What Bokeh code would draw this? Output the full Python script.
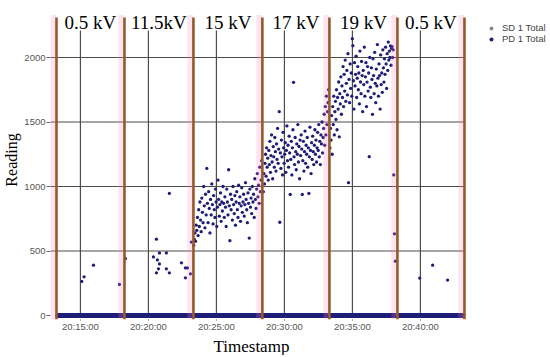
import numpy as np
from bokeh.plotting import figure
from bokeh.models import Range1d, FixedTicker, Legend, LegendItem, Title
from bokeh.core.properties import value
from bokeh.embed import file_html
from bokeh.resources import INLINE

# ---- data (x in minutes after 20:00) ----
kv_labels = ["0.5 kV", "11.5kV", "15 kV", "17 kV", "19 kV", "0.5 kV"]
boundaries = [13.24, 18.24, 23.31, 28.38, 33.31, 38.31, 43.24]
x_ticks = [15, 20, 25, 30, 35, 40]
x_tick_labels = ["20:15:00", "20:20:00", "20:25:00", "20:30:00", "20:35:00", "20:40:00"]
y_ticks = [0, 500, 1000, 1500, 2000]

# sparse PD readings (explicit timestamps)
sparse_min = [15.10, 15.27, 15.96, 17.87, 18.31,
              20.37, 20.59, 20.59, 20.66, 20.74, 20.81, 20.81, 21.32, 21.32, 21.54, 21.54,
              22.43, 22.72, 22.72, 22.87, 23.09, 23.16,
              38.04, 38.09, 38.16,
              39.95, 40.90, 42.00]
sparse_val = [264, 300, 390, 241, 441,
              454, 592, 331, 431, 362, 485, 400, 485, 362, 946, 331,
              408, 369, 292, 369, 323, 569,
              1090, 633, 421,
              290, 390, 275]

# dense segments, evenly sampled between start and end
pd15_start, pd15_end = 23.33, 28.33
pd15 = [545, 590, 640, 575, 700, 660, 760, 620, 820, 690,
        880, 740, 650, 910, 800, 720, 1000, 850, 680, 940,
        780, 1140, 870, 720, 960, 830, 640, 900, 780, 1020,
        860, 710, 930, 820, 760, 980, 880, 690, 840, 1050,
        900, 770, 860, 950, 730, 880, 810, 1000, 870, 760,
        920, 840, 690, 980, 880, 780, 1130, 850, 580, 940,
        820, 900, 740, 1000, 860, 790, 930, 700, 880, 960,
        820, 760, 1010, 870, 920, 730, 850, 990, 800, 880,
        940, 770, 860, 1030, 900, 820, 720, 950, 870, 600,
        980, 840, 910, 790, 1000, 880, 940, 760, 1060, 900,
        830, 980, 1100, 920, 1010, 870, 1150, 960, 1050, 1200]

pd17_start, pd17_end = 28.45, 33.25
pd17 = [960, 1100, 1020, 1180, 1250, 1080, 1300, 1150, 1220, 1050,
        1280, 1170, 1350, 1110, 1240, 1400, 1190, 1060, 1310, 1230,
        1150, 1380, 1270, 1120, 1330, 1210, 1450, 1180, 1290, 1580,
        723, 1260, 1140, 1360, 1230, 1090, 1420, 1300, 1180, 1250,
        1340, 1110, 1280, 1470, 1200, 1320, 1150, 1390, 1260, 938,
        1210, 1350, 1090, 1300, 1440, 1808, 1230, 1170, 1380, 1270,
        1130, 1330, 1250, 1480, 1190, 1310, 1060, 1360, 1240, 1400,
        1290, 938, 1200, 1350, 1120, 1270, 1430, 1180, 1320, 1250,
        1380, 1150, 1300, 946, 1230, 1460, 1280, 1100, 1340, 1210,
        1390, 1270, 1170, 1320, 1440, 1250, 1360, 1190, 1300, 1420,
        1280, 1480, 1230, 1350, 1170, 1400, 1330, 1500, 1260, 1380,
        1450, 1560, 1320, 1620, 1400, 1700, 1480, 1580, 1650, 1750]

pd19_start, pd19_end = 33.35, 38.0
pd19 = [1300, 1450, 1360, 1550, 1250, 1620, 1480, 1700, 1400, 1580,
        1660, 1520, 1750, 1440, 1690, 1600, 1810, 1385, 1720, 1640,
        1850, 1560, 1780, 1690, 1930, 1620, 1870, 1740, 1980, 1660,
        1800, 1900, 1710, 2030, 1030, 1830, 1650, 1950, 1760, 1880,
        1700, 2146, 2092, 1820, 1600, 1960, 1780, 1870, 2010, 1690,
        1840, 1930, 1750, 1880, 1640, 2050, 1810, 1720, 1970, 1860,
        1580, 1900, 1790, 2080, 1700, 1850, 1960, 1620, 1810, 1930,
        1740, 1880, 1231, 2000, 1770, 1690, 1920, 1830, 1560, 1990,
        1860, 1720, 2040, 1800, 1650, 1910, 1780, 2100, 1840, 1700,
        1950, 1860, 1600, 2020, 1790, 1880, 1730, 2060, 1920, 1810,
        1990, 1870, 2080, 1950, 1760, 2030, 1900, 2120, 1980, 2050,
        2000, 2090, 1940, 2070, 2085, 2000, 2060]

# zero readings across the whole logging period
zero_min = [13.24, 43.24]
zero_val = [0, 0]

# SD series (sits on zero, hidden under the zero band)
sd_min = [13.24, 43.24]
sd_val = [0, 0]

# ---- build ----
pd_x = [float(v) for v in sparse_min]
pd_y = [float(v) for v in sparse_val]
for s, e, vals in [(pd15_start, pd15_end, pd15), (pd17_start, pd17_end, pd17), (pd19_start, pd19_end, pd19)]:
    pd_x += [float(v) for v in np.linspace(s, e, len(vals))]
    pd_y += [float(v) for v in vals]

NAVY = "#1e1e78"
BROWN = "#96592a"
GRID = "#4d4d4d"

X0, X1 = 12.8, 49.64     # frame extends under the legend area
GRID_RIGHT = 43.3        # plotting area right edge
Y0, Y1 = -31, 2442

p = figure(frame_width=501, frame_height=319, output_backend="svg", toolbar_location=None,
           x_range=Range1d(X0, X1), y_range=Range1d(Y0, Y1),
           min_border_left=49, min_border_top=0, min_border_bottom=0, min_border_right=0)
p.outline_line_color = None
p.xgrid.visible = False
p.ygrid.visible = False

# horizontal grid lines
hy = y_ticks[1:]
p.segment(x0=[X0] * len(hy), y0=hy, x1=[GRID_RIGHT] * len(hy), y1=hy,
          line_color=GRID, line_width=1.2)
# vertical grid lines (up to the grid top)
grid_top = 2210
p.segment(x0=x_ticks, y0=[0] * len(x_ticks), x1=x_ticks, y1=[grid_top] * len(x_ticks),
          line_color=GRID, line_width=1.2)

sd_r = p.scatter(sd_min, sd_val, size=3, color="#8a8a8a", marker="circle", line_width=0)
pd_r = p.scatter(pd_x, pd_y, size=3.3, color=NAVY, marker="circle", line_width=0)
p.line(zero_min, zero_val, line_width=5, line_color=NAVY)

# pink bands left of the segment boundaries (semi-transparent, on top)
p.quad(left=[b - 0.45 for b in boundaries], right=[b - 0.02 for b in boundaries],
       bottom=Y0, top=2330, fill_color="#ff7fc0", fill_alpha=0.22, line_color=None)
# brown segment boundary lines
p.segment(x0=boundaries, y0=[Y0] * len(boundaries), x1=boundaries, y1=[2310] * len(boundaries),
          line_color=BROWN, line_width=2.6)

centers = [(boundaries[i] + boundaries[i + 1]) / 2 for i in range(len(kv_labels))]
p.text(x=centers, y=[2271] * len(centers), text=kv_labels, text_font=value("Liberation Serif"),
       text_font_size="19px", text_align="center", text_baseline="alphabetic", text_color="black")

# axes
p.xaxis.ticker = FixedTicker(ticks=x_ticks)
p.xaxis.major_label_overrides = {t: l for t, l in zip(x_ticks, x_tick_labels)}
p.yaxis.ticker = FixedTicker(ticks=y_ticks)
for ax in (p.xaxis[0], p.yaxis[0]):
    ax.axis_line_color = None
    ax.minor_tick_line_color = None
    ax.major_tick_in = 0
    ax.major_tick_line_color = "#666666"
    ax.major_label_text_font = "Liberation Sans"
    ax.major_label_text_font_size = "9.5px"
    ax.major_label_text_color = "#555555"
    ax.axis_label_text_font = "Liberation Serif"
    ax.axis_label_text_font_style = "normal"
    ax.axis_label_text_color = "black"
p.xaxis.major_tick_out = 1
p.xaxis.major_label_standoff = 0
p.yaxis.major_tick_out = 4
p.yaxis.major_label_standoff = 1
p.yaxis.axis_label = "Reading"
p.yaxis.axis_label_text_font_size = "16px"
p.yaxis.axis_label_standoff = 1

# x-axis title, placed under the plotting area (not under the legend)
p.add_layout(Title(text="Timestamp", align="left", offset=163, standoff=0,
                   text_font="Liberation Serif", text_font_size="17px",
                   text_font_style="normal", text_color="black"), "below")

legend = Legend(items=[LegendItem(label="SD 1 Total", renderers=[sd_r]),
                       LegendItem(label="PD 1 Total", renderers=[pd_r])],
                location=(436, 275), border_line_color=None, background_fill_alpha=0,
                label_text_font="Liberation Sans", label_text_font_size="9.5px",
                label_text_color="#444444", glyph_width=10, glyph_height=10,
                label_height=10, spacing=0, padding=2, margin=0, label_standoff=6)
p.add_layout(legend)

open("out.html", "w").write(file_html(p, INLINE))
